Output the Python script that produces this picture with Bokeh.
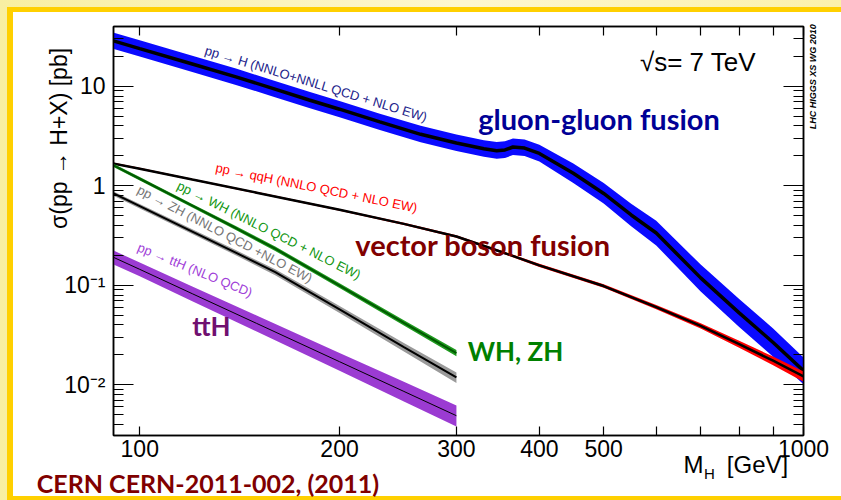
import math
from bokeh.plotting import figure
from bokeh.models import (Range1d, FixedTicker, LogAxis, Label,
                          ColumnDataSource, PrintfTickFormatter,
                          CustomLabelingPolicy, InlineStyleSheet)
from bokeh.embed import file_html
from bokeh.resources import INLINE

# ---------------------------------------------------------------------------
# SM Higgs production cross sections at sqrt(s) = 7 TeV, sigma [pb] vs M_H [GeV]
# ---------------------------------------------------------------------------
ggf_mass = [90, 100, 120, 140, 159, 180, 200, 230, 265, 300, 330, 345, 355,
            365, 380, 400, 450, 500, 550, 600, 700, 800, 900, 1000]
ggf_xs = [29.5, 24.0, 16.8, 12.4, 9.5, 7.3, 5.9, 4.4, 3.3, 2.70, 2.36, 2.26,
          2.30, 2.46, 2.40, 2.12, 1.34, 0.84, 0.51, 0.336, 0.119, 0.053, 0.0267,
          0.0139]
ggf_unc_up = [0.21, 0.21, 0.21, 0.21, 0.21, 0.21, 0.21, 0.21, 0.22, 0.22, 0.22,
              0.22, 0.22, 0.22, 0.22, 0.22, 0.25, 0.27, 0.30, 0.33, 0.36, 0.38,
              0.38, 0.36]
ggf_unc_dn = [0.17, 0.17, 0.17, 0.17, 0.17, 0.17, 0.17, 0.17, 0.17, 0.17, 0.17,
              0.17, 0.17, 0.17, 0.17, 0.17, 0.20, 0.21, 0.23, 0.25, 0.27, 0.28,
              0.28, 0.27]

vbf_mass = [90, 100, 120, 150, 200, 250, 300, 350, 400, 500, 600, 700, 800,
            900, 1000]
vbf_xs = [1.71, 1.49, 1.16, 0.855, 0.575, 0.415, 0.31, 0.218, 0.159, 0.0985,
          0.0605, 0.0392, 0.0257, 0.0175, 0.0122]
vbf_unc = [0.02, 0.02, 0.02, 0.02, 0.02, 0.025, 0.03, 0.03, 0.035, 0.04, 0.05,
           0.06, 0.08, 0.10, 0.12]

vh_mass = [90, 100, 120, 140, 160, 200, 250, 300]
wh_xs = [1.69, 1.18, 0.632, 0.373, 0.234, 0.0996, 0.042, 0.0209]
wh_unc = [0.04, 0.04, 0.04, 0.045, 0.05, 0.055, 0.06, 0.07]
zh_xs = [0.879, 0.625, 0.347, 0.211, 0.136, 0.0574, 0.024, 0.0119]
zh_unc = [0.05, 0.05, 0.055, 0.06, 0.07, 0.08, 0.10, 0.12]

tth_mass = [90, 100, 120, 150, 200, 250, 300]
tth_xs = [0.20, 0.145, 0.0825, 0.0415, 0.0171, 0.0086, 0.0049]
tth_unc_up = [0.17, 0.17, 0.18, 0.20, 0.22, 0.25, 0.27]
tth_unc_dn = [0.15, 0.15, 0.16, 0.17, 0.19, 0.21, 0.22]

x_ticks = [100, 200, 300, 400, 500, 600, 700, 800, 900, 1000]
x_labelled = [100, 200, 300, 400, 500, 1000]
y_major = [0.01, 0.1, 1, 10]
y_major_labels = ["10\u207b\u00b2", "10\u207b\u00b9", "1", "10"]

XMIN, XMAX = 91.3, 1000.0
YMIN, YMAX = 0.0031, 40.0

FONT = "Liberation Sans"
BOLD_FONT = "Lato"
GOLD = "#ffd000"

# canvas geometry in pixels
W, H = 841, 500
FRAME_L, FRAME_R, FRAME_T, FRAME_B = 113, 803, 26, 437

# slide look: pale yellow page, gold rule, white sheet behind the plot
slide_css = f"""
:host {{
  background:
    linear-gradient({GOLD}, {GOLD}) 7px 7px / 834px 5px no-repeat,
    linear-gradient({GOLD}, {GOLD}) 7px 7px / 6px 493px no-repeat,
    linear-gradient({GOLD}, {GOLD}) 7px 496px / 834px 4px no-repeat,
    linear-gradient(#ffffff, #ffffff) 13px 12px / 828px 484px no-repeat,
    linear-gradient(90deg, #f8efa2 0%, #fdf7cf 55%, #fbf1ab 100%);
}}
"""


def band(mass, xs, up, dn):
    return ColumnDataSource(dict(
        m=mass, xs=xs,
        hi=[v * (1 + u) for v, u in zip(xs, up)],
        lo=[v * (1 - d) for v, d in zip(xs, dn)],
    ))


p = figure(width=W, height=H, x_axis_type="log", y_axis_type="log",
           x_range=Range1d(XMIN, XMAX), y_range=Range1d(YMIN, YMAX),
           output_backend="svg", toolbar_location=None,
           min_border_left=FRAME_L, min_border_right=W - FRAME_R,
           min_border_top=FRAME_T, min_border_bottom=H - FRAME_B,
           background_fill_color="white", border_fill_color=None,
           outline_line_color="black", outline_line_width=1.5)
p.grid.visible = False
p.stylesheets = [InlineStyleSheet(css=slide_css)]


def to_data(px, py):
    """Canvas pixel -> data coordinates of the log/log frame."""
    fx = (px - FRAME_L) / (FRAME_R - FRAME_L)
    fy = (FRAME_B - py) / (FRAME_B - FRAME_T)
    return XMIN * (XMAX / XMIN) ** fx, YMIN * (YMAX / YMIN) ** fy


# --- axes: ticks pointing inwards on all four sides
bottom_axis = p.below[0]
left_axis = p.left[0]
top_axis = LogAxis()
right_axis = LogAxis()
p.add_layout(top_axis, "above")
p.add_layout(right_axis, "right")

hide_all = CustomLabelingPolicy(code="""
    for (const i of Array.from(indices)) { indices.unset(i) }
    return indices
""")
show_some = CustomLabelingPolicy(
    args=dict(ticks=x_ticks, keep=x_labelled),
    code="""
    for (const i of Array.from(indices)) {
        if (!keep.includes(ticks[i])) { indices.unset(i) }
    }
    return indices
""")

y_minor = [m * 10.0 ** e for e in (-3, -2, -1, 0, 1) for m in range(2, 10)
           if YMIN <= m * 10.0 ** e <= YMAX]

for ax in (bottom_axis, top_axis):
    ax.ticker = FixedTicker(ticks=x_ticks, minor_ticks=[])
    ax.major_tick_in = 9
    ax.major_tick_out = 0
    ax.minor_tick_in = 0
    ax.minor_tick_out = 0
    ax.axis_line_color = "black"
    ax.axis_line_width = 1.5
    ax.major_tick_line_color = "black"
    ax.major_tick_line_width = 1.2

bottom_axis.formatter = PrintfTickFormatter(format="%d")
bottom_axis.major_label_policy = show_some
bottom_axis.major_label_text_font = FONT
bottom_axis.major_label_text_font_size = "23px"
bottom_axis.major_label_text_color = "black"
bottom_axis.major_label_standoff = 4

for ax in (left_axis, right_axis):
    ax.ticker = FixedTicker(ticks=y_major, minor_ticks=y_minor)
    ax.major_tick_in = 20
    ax.major_tick_out = 0
    ax.minor_tick_in = 10
    ax.minor_tick_out = 0
    ax.axis_line_color = "black"
    ax.axis_line_width = 1.5
    ax.major_tick_line_color = "black"
    ax.major_tick_line_width = 1.2
    ax.minor_tick_line_color = "black"
    ax.minor_tick_line_width = 1.0

left_axis.formatter = PrintfTickFormatter(format="%g")
left_axis.major_label_overrides = dict(zip(y_major, y_major_labels))
left_axis.major_label_text_font = FONT
left_axis.major_label_text_font_size = "23px"
left_axis.major_label_text_color = "black"
left_axis.major_label_standoff = 8

for ax in (top_axis, right_axis):
    ax.major_label_policy = hide_all
    ax.major_label_text_font_size = "1px"
    ax.major_label_standoff = 0


def text_axis(side, spots, labels, size, color="black", font=FONT,
              style="normal", standoff=0, orientation="horizontal"):
    """An axis without line or ticks, used to place text beside the frame."""
    if side in ("below", "above"):
        ticks = [round(to_data(s, FRAME_B)[0], 9) for s in spots]
    else:
        ticks = [round(to_data(FRAME_L, s)[1], 9) for s in spots]
    ax = LogAxis(ticker=FixedTicker(ticks=ticks, minor_ticks=[]),
                 formatter=PrintfTickFormatter(format="%g"),
                 major_label_overrides=dict(zip(ticks, labels)),
                 major_label_text_font=font,
                 major_label_text_font_size=f"{size}px",
                 major_label_text_font_style=style,
                 major_label_text_color=color,
                 major_label_standoff=standoff,
                 major_label_orientation=orientation,
                 axis_line_color=None, major_tick_line_color=None,
                 minor_tick_line_color=None, major_tick_in=0,
                 major_tick_out=0, minor_tick_in=0, minor_tick_out=0)
    p.add_layout(ax, side)


# axis titles and notes around the frame
text_axis("left", [138.5], ["\u03c3(pp \u2192 H+X) [pb]"], 23, standoff=-11,
          orientation="vertical")
text_axis("below", [693, 757], ["M", "[GeV]"], 24, standoff=-9)
text_axis("below", [709], ["H"], 15, standoff=-16)
text_axis("below", [207.5], ["CERN CERN-2011-002, (2011)"], 25,
          color="#800000", font=BOLD_FONT, style="bold", standoff=-17)
text_axis("right", [81.5], ["LHC HIGGS XS WG 2010"], 9, style="bold italic",
          standoff=5, orientation=math.pi / 2)

# --- gluon-gluon fusion
src = band(ggf_mass, ggf_xs, ggf_unc_up, ggf_unc_dn)
p.varea(x="m", y1="lo", y2="hi", source=src, fill_color="#0a0aff")
p.line(x="m", y="xs", source=src, line_color="black", line_width=3.5)

# --- vector boson fusion
src = band(vbf_mass, vbf_xs, vbf_unc, vbf_unc)
p.varea(x="m", y1="lo", y2="hi", source=src, fill_color="#ff0000")
p.line(x="m", y="xs", source=src, line_color="black", line_width=2.5)

# --- associated production with W / Z
src = band(vh_mass, zh_xs, zh_unc, zh_unc)
p.varea(x="m", y1="lo", y2="hi", source=src, fill_color="#9a9a9a")
p.line(x="m", y="xs", source=src, line_color="black", line_width=2)

src = band(vh_mass, wh_xs, wh_unc, wh_unc)
p.varea(x="m", y1="lo", y2="hi", source=src, fill_color="#1f9a1f")
p.line(x="m", y="xs", source=src, line_color="#005a00", line_width=2)

# --- ttH
src = band(tth_mass, tth_xs, tth_unc_up, tth_unc_dn)
p.varea(x="m", y1="lo", y2="hi", source=src, fill_color="#9b3bd2")
p.line(x="m", y="xs", source=src, line_color="black", line_width=1)


def note(text, px, py, size, color, angle=0.0, font=FONT, style="normal",
         align="center", baseline="middle"):
    x, y = to_data(px, py)
    p.add_layout(Label(x=x, y=y, text=text, angle=math.radians(angle),
                       text_font=font, text_font_size=f"{size}px",
                       text_font_style=style, text_color=color,
                       text_align=align, text_baseline=baseline))


# energy
note("\u221as= 7 TeV", 697.5, 62, 26, "black")

# curve captions
note("pp \u2192 H (NNLO+NNLL QCD + NLO EW)", 315.7, 83.5, 13, "#22228a", angle=-17)
note("pp \u2192 qqH (NNLO QCD + NLO EW)", 316, 188, 13, "#ff0000", angle=-11.4)
note("pp \u2192 WH (NNLO QCD + NLO EW)", 268.5, 230.7, 13, "#119611", angle=-26.6)
note("pp \u2192 ZH (NNLO QCD +NLO EW)", 224.5, 234.5, 13, "#777777", angle=-27.6)
note("pp \u2192 ttH (NLO QCD)", 194.5, 270.5, 13, "#a040d8", angle=-22.3)

# process names
note("gluon-gluon fusion", 598.5, 118, 29, "#000096", font=BOLD_FONT, style="bold")
note("vector boson fusion", 482.5, 245, 29, "#800000", font=BOLD_FONT, style="bold")
note("WH, ZH", 515, 352, 26, "#008000", font=BOLD_FONT, style="bold")
note("ttH", 211, 327, 26, "#701070", font=BOLD_FONT, style="bold")

open("out.html", "w").write(file_html(p, INLINE))
